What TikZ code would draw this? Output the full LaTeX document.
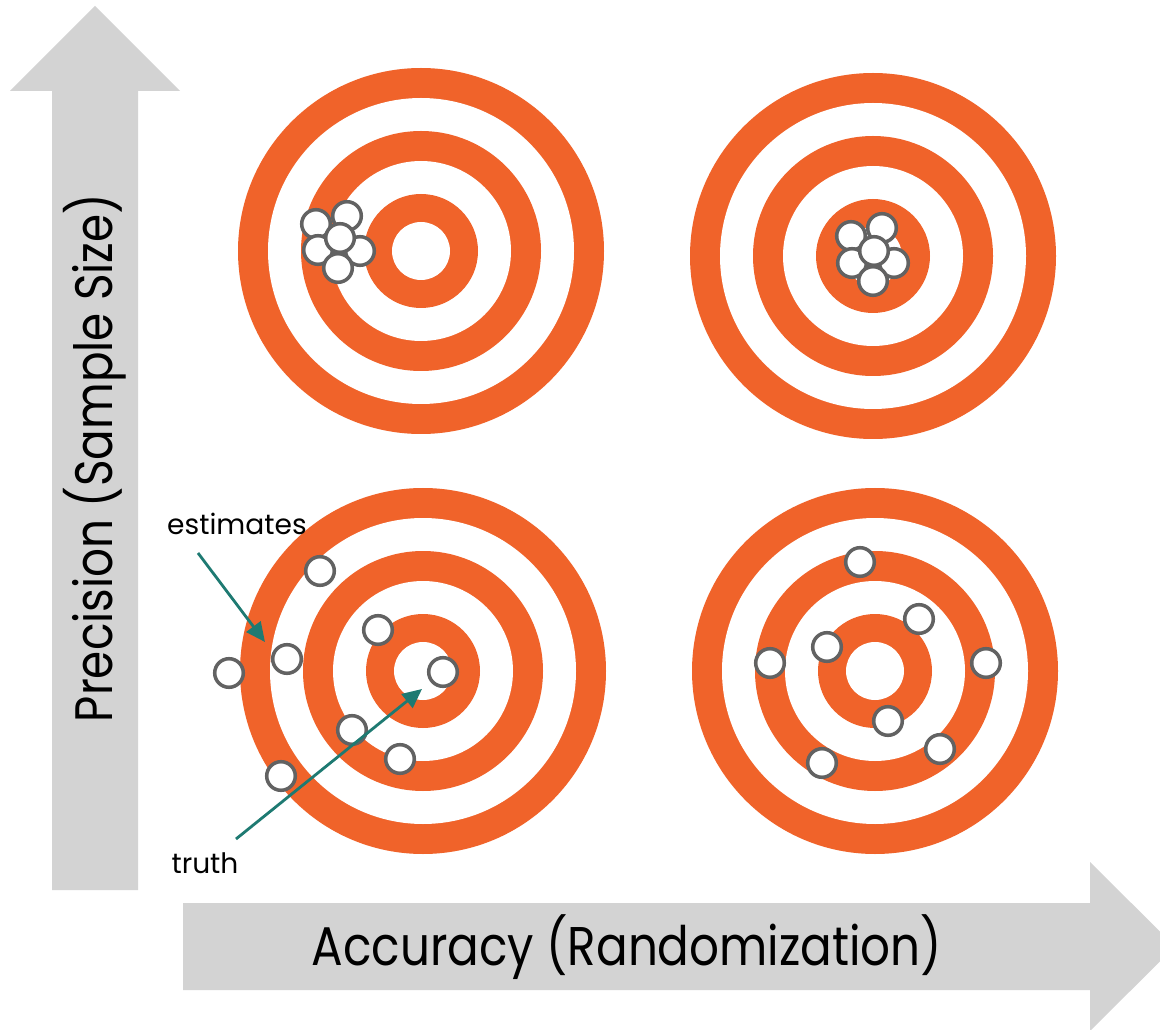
\documentclass[tikz,border=0pt]{standalone}
\usepackage{fontspec}
\setmainfont{Poppins}
\newfontfamily\axisfont{Poppins}[FakeStretch=0.86]
\usetikzlibrary{arrows.meta}

\definecolor{targetorange}{RGB}{240,99,42}
\definecolor{shotgray}{RGB}{98,98,98}
\definecolor{axisgray}{RGB}{211,211,211}
\definecolor{pointerteal}{RGB}{30,122,114}

% one target: alternating filled discs, outside in
\newcommand{\drawtarget}[2]{%
  \foreach \rad/\col in {183/targetorange,153/white,120/targetorange,90/white,57/targetorange,29/white}
  {\fill[\col] (#1,#2) circle[radius=\rad];}}

\tikzset{
  shot/.style={draw=shotgray,fill=white,line width=2pt},
  pointer/.style={pointerteal,line width=1.6pt,-{Triangle[length=11pt,width=10pt]}},
  axislabel/.style={inner sep=0pt,text=black},
  notelabel/.style={inner sep=0pt,anchor=base,font=\fontsize{16}{16}\selectfont}
}

\begin{document}
\begin{tikzpicture}[x=0.02cm,y=-0.02cm]
\useasboundingbox (0,0) rectangle (1160,1030);
\clip (0,0) rectangle (1160,1030);

% Axis arrows
\fill[axisgray] (52,890) -- (52,91) -- (10,91) -- (95,6) -- (180,91) -- (138,91) -- (138,890) -- cycle;
\fill[axisgray] (183,903) -- (1090,903) -- (1090,862) -- (1175,946.5) -- (1090,1031) -- (1090,990) -- (183,990) -- cycle;

\node[axislabel,rotate=90,font=\axisfont\fontsize{30}{30}\selectfont] (precision) at (95,458) {Precision (Sample Size)};
\node[axislabel,anchor=base,font=\axisfont\fontsize{31}{31}\selectfont] (accuracy) at (627,965) {Accuracy (Randomization)};

% Targets
\drawtarget{421}{251}
\drawtarget{873}{256}
\drawtarget{423}{671}
\drawtarget{875}{671}

% Shots, top left: tight but off centre
\foreach \x/\y in {316/224,347/216,318/250,360/251,340/238,338/268}
{\draw[shot] (\x,\y) circle[radius=14.3];}

% Shots, top right: tight and centred
\foreach \x/\y in {851/236,882/228,852/263,894/263,874/251,873/281}
{\draw[shot] (\x,\y) circle[radius=14.3];}

% Shots, bottom left: spread and off centre
\foreach \x/\y in {320/571,378/630,287/659,229/673,443/672,352/730,400/759,281/776}
{\draw[shot] (\x,\y) circle[radius=14.3];}

% Shots, bottom right: spread round the centre
\foreach \x/\y in {860/562,919/619,827/647,770/663,986/663,888/721,940/749,822/763}
{\draw[shot] (\x,\y) circle[radius=14.3];}

% Labels and pointers
\node[notelabel] (estimates) at (237,535) {estimates};
\node[notelabel] (truth) at (205,873) {truth};

\coordinate (estTail) at (198,553);
\coordinate (estTip) at (265,642);
\coordinate (truthTail) at (236,839);
\coordinate (truthTip) at (422,689);

\draw[pointer] (estTail) -- (estTip);
\draw[pointer] (truthTail) -- (truthTip);
\end{tikzpicture}
\end{document}
